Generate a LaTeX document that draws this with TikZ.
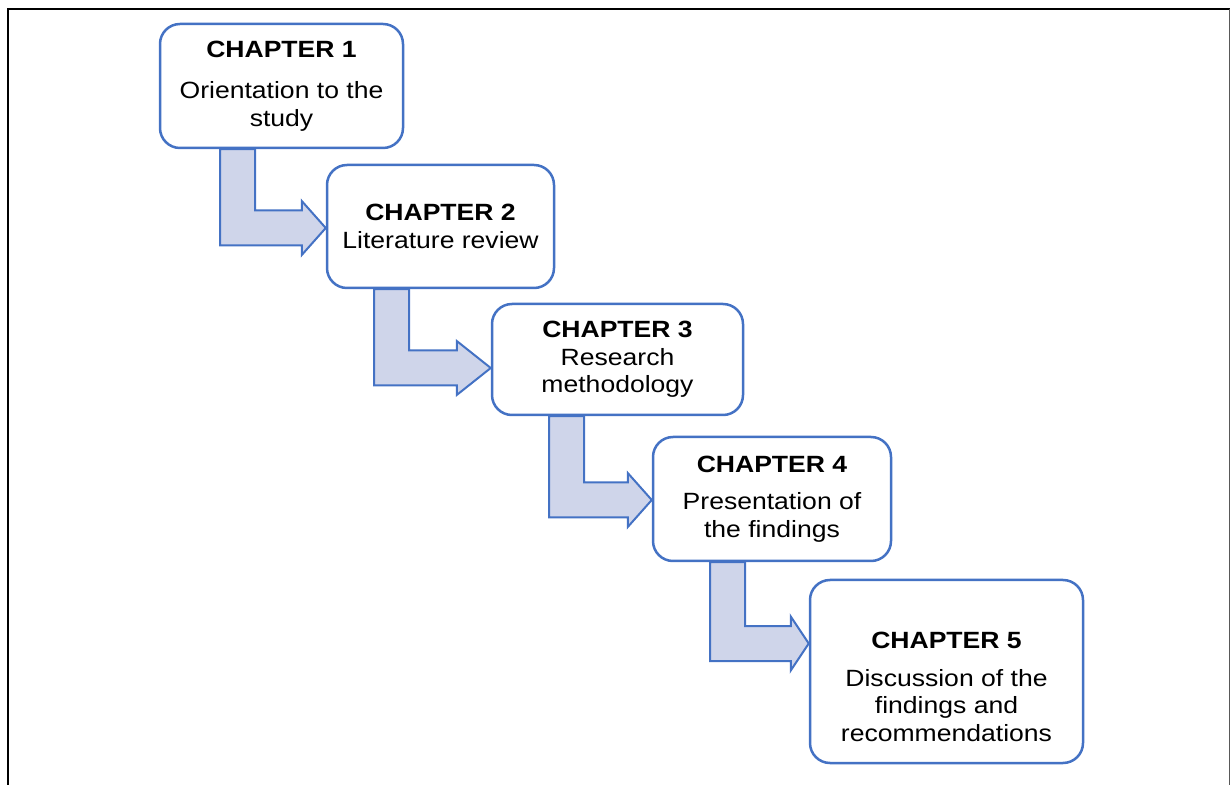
\documentclass[tikz,border=0pt]{standalone}
\usepackage{fontspec}
\setmainfont{Liberation Sans}[FakeStretch=1.13]
\usepackage{tikz}
\usetikzlibrary{calc,backgrounds}
\definecolor{boxblue}{RGB}{68,114,196}
\definecolor{bandfill}{RGB}{207,213,234}
% L-shaped block arrow: from box, to box, x of left side, y of tip, head length
\newcommand{\chapterstep}[5]{%
\draw[stepband] (#3,0 |- #1.south) -- (#3,#4+17.5) -- ($(#2.west |- 0,#4)+(-#5,17.5)$) -- ($(#2.west |- 0,#4)+(-#5,27)$) -- (#2.west |- 0,#4) -- ($(#2.west |- 0,#4)+(-#5,-27)$) -- ($(#2.west |- 0,#4)+(-#5,-17.5)$) -- (#3+35,#4-17.5) -- (#3+35,0 |- #1.south) -- cycle;}

\begin{document}
\begin{tikzpicture}[x=0.5pt, y=-0.5pt,
  font=\fontsize{11.75pt}{13.75pt}\selectfont,
  chapbox/.style={draw=boxblue, line width=1.25pt, fill=white, rounded corners=10pt, align=center, inner sep=0pt},
  stepband/.style={draw=boxblue, line width=1pt, fill=bandfill, line join=miter}]
\useasboundingbox (0,0) rectangle (1231,785);
\draw[line width=1.2pt] (8,785) -- (8,9) -- (1229.5,9);
\draw[black!65, line width=0.6pt] (1229.5,9) -- (1229.5,785);
\node[chapbox, minimum width=121.5pt, minimum height=62pt] (ch1) at (281.5,86) {\textbf{CHAPTER 1}\\[7pt] Orientation to the\\ study};
\node[chapbox, minimum width=113.5pt, minimum height=61.5pt] (ch2) at (440.5,226.5) {\textbf{CHAPTER 2}\\ Literature review};
\node[chapbox, minimum width=125.5pt, minimum height=55.5pt] (ch3) at (617.5,359.5) {\textbf{CHAPTER 3}\\ Research\\ methodology};
\node[chapbox, minimum width=119pt, minimum height=62pt] (ch4) at (772,499) {\textbf{CHAPTER 4}\\[5pt] Presentation of\\ the findings};
\node[chapbox, minimum width=136.5pt, minimum height=91.5pt] (ch5) at (946.5,671.5) {\rule{0pt}{23.5pt}\textbf{CHAPTER 5}\\[5pt] Discussion of the\\ findings and\\ recommendations};
\begin{scope}[on background layer]
\chapterstep{ch1}{ch2}{220}{228}{24}
\chapterstep{ch2}{ch3}{374}{368}{34}
\chapterstep{ch3}{ch4}{549}{500}{24}
\chapterstep{ch4}{ch5}{710}{643.5}{18}
\end{scope}
\end{tikzpicture}
\end{document}
